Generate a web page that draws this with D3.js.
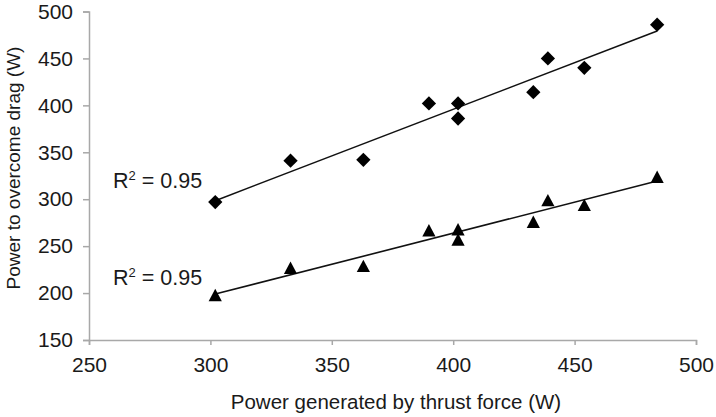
<!DOCTYPE html>
<html>
<head>
<meta charset="utf-8">
<script src="https://cdn.jsdelivr.net/npm/d3@7"></script>
<style>
  html, body { margin: 0; padding: 0; background: #fff; }
  svg { display: block; }
  text { font-family: "Liberation Sans", Arial, sans-serif; fill: #1a1a1a; }
</style>
</head>
<body>
<svg id="chart" width="716" height="417"></svg>
<script>
// Data
const thrustPower = [302, 333, 363, 390, 402, 402, 433, 439, 454, 484];
const dragPowerDiamond = [297, 341, 342, 402, 402, 386, 414, 450, 440, 486];
const dragPowerTriangle = [198, 227, 229, 267, 268, 257, 276, 299, 294, 324];
const xTicks = [250, 300, 350, 400, 450, 500];
const yTicks = [150, 200, 250, 300, 350, 400, 450, 500];
const r2Labels = ["0.95", "0.95"];
const xLabel = "Power generated by thrust force (W)";
const yLabel = "Power to overcome drag (W)";

const svg = d3.select("#chart");
const x = d3.scaleLinear().domain([250, 500]).range([89, 696]);
const y = d3.scaleLinear().domain([150, 500]).range([340, 11.5]);
const axisColor = "#a8a8a8";

// X axis
const gx = svg.append("g").attr("transform", `translate(0,${y(150)})`)
  .call(d3.axisBottom(x).tickValues(xTicks).tickSize(5).tickPadding(8));
// Y axis
const gy = svg.append("g").attr("transform", `translate(${x(250)},0)`)
  .call(d3.axisLeft(y).tickValues(yTicks).tickSize(6).tickPadding(10));

[gx, gy].forEach(g => {
  g.select(".domain").attr("stroke", axisColor).attr("stroke-width", 1.5);
  g.selectAll(".tick line").attr("stroke", axisColor).attr("stroke-width", 1.5);
  g.selectAll(".tick text").attr("font-size", 21).attr("fill", "#1a1a1a")
    .attr("font-family", "Liberation Sans, Arial, sans-serif");
});
gx.selectAll(".tick text").attr("dy", "0.9em");

// Regression helper
function fit(xs, ys) {
  const n = xs.length;
  const mx = d3.mean(xs), my = d3.mean(ys);
  let sxy = 0, sxx = 0;
  for (let i = 0; i < n; i++) { sxy += (xs[i]-mx)*(ys[i]-my); sxx += (xs[i]-mx)**2; }
  const b = sxy / sxx, a = my - b * mx;
  return v => a + b * v;
}

const series = [dragPowerDiamond, dragPowerTriangle];
const xmin = d3.min(thrustPower), xmax = d3.max(thrustPower);
series.forEach(ys => {
  const f = fit(thrustPower, ys);
  svg.append("line")
    .attr("x1", x(xmin)).attr("y1", y(f(xmin)))
    .attr("x2", x(xmax)).attr("y2", y(f(xmax)))
    .attr("stroke", "#111").attr("stroke-width", 1.6);
});

// Diamonds
svg.append("g").selectAll("path")
  .data(thrustPower.map((v, i) => [v, dragPowerDiamond[i]]))
  .join("path")
  .attr("d", d3.symbol().type(d3.symbolSquare).size(102))
  .attr("transform", d => `translate(${x(d[0])},${y(d[1])}) rotate(45)`)
  .attr("fill", "#000");

// Triangles (bbox-centred)
const tri = "M0,-6.2L6.6,6.2L-6.6,6.2Z";
svg.append("g").selectAll("path")
  .data(thrustPower.map((v, i) => [v, dragPowerTriangle[i]]))
  .join("path")
  .attr("d", tri)
  .attr("transform", d => `translate(${x(d[0])},${y(d[1])})`)
  .attr("fill", "#000");

// R² labels
const r2Pos = [[113, 188], [113, 285]];
r2Labels.forEach((lab, i) => {
  const t = svg.append("text").attr("x", r2Pos[i][0]).attr("y", r2Pos[i][1])
    .attr("font-size", 21.5);
  t.append("tspan").text("R");
  t.append("tspan").attr("font-size", 13).attr("dy", -8).text("2");
  t.append("tspan").attr("dy", 8).text(" = " + lab);
});

// Axis titles
svg.append("text").attr("x", 396).attr("y", 409)
  .attr("text-anchor", "middle").attr("font-size", 20.5).text(xLabel);
svg.append("text").attr("transform", "translate(20,168) rotate(-90)")
  .attr("text-anchor", "middle").attr("font-size", 19).text(yLabel);
</script>
</body>
</html>
